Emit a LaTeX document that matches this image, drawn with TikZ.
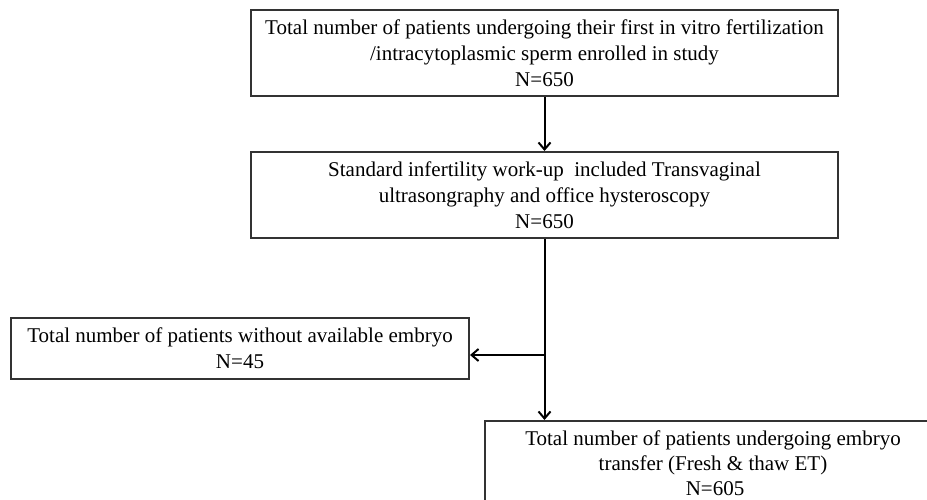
\documentclass[tikz,border=0pt]{standalone}
\usepackage{fontspec}
\setmainfont{Liberation Serif}
\usetikzlibrary{arrows.meta,calc}
\begin{document}
\begin{tikzpicture}[x=1pt,y=-1pt,
  box/.style={draw=black!80,line width=2pt,align=center,inner sep=0pt,
    font=\fontsize{21}{26}\selectfont},
  conn/.style={draw=black,line width=2pt,-{Straight Barb[length=7pt,width=12pt]}}]
\useasboundingbox (0,0) rectangle (927,500);
\node[box,minimum width=587pt,minimum height=86pt] (b1) at (544.5,53)
  {Total number of patients undergoing their first in vitro fertilization\\/intracytoplasmic sperm enrolled in study\\N=650};
\node[box,minimum width=587pt,minimum height=86pt] (b2) at (544.5,195)
  {Standard infertility work-up\ \ included Transvaginal\\ultrasongraphy and office hysteroscopy\\N=650};
\node[box,minimum width=458pt,minimum height=61pt] (b3) at (240,348.5)
  {Total number of patients without available embryo\\N=45};
\node[box,minimum width=456pt,minimum height=84pt,anchor=north west,
  font=\fontsize{21}{25}\selectfont] (b4) at (484,420)
  {Total number of patients undergoing embryo\\transfer (Fresh \& thaw ET)\\\hspace*{4pt}N=605};
\coordinate (j) at (b2.south |- 0,355);
\draw[conn] (b1.south) -- (b2.north);
\draw[conn] (b2.south) -- (b2.south |- b4.north);
\draw[conn] (j) -- (j -| b3.east);
\end{tikzpicture}
\end{document}
